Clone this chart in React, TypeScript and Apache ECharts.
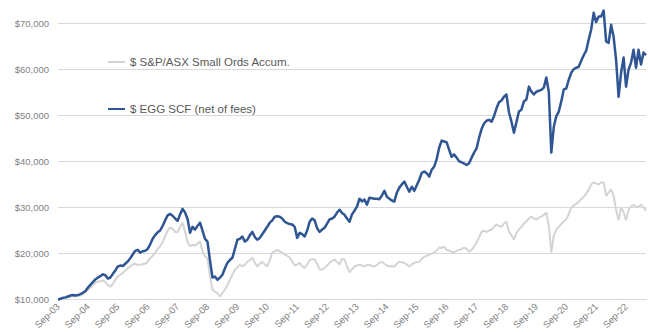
import React, { useEffect, useRef } from "react";
import * as echarts from "echarts";

// Monthly growth of $10,000 invested, Sep-03 onwards (values in $ thousands)
const eggScfK = [
  10.0, 10.2, 10.4, 10.5, 10.7, 10.9, 11.0, 10.9, 11.0, 11.2, 11.5, 11.9,
  12.6, 13.2, 13.8, 14.4, 14.8, 15.1, 15.5, 15.3, 14.6, 14.8, 15.6, 16.3,
  17.2, 17.4, 17.3, 17.8, 18.3, 19.0, 19.8, 20.6, 20.8, 20.2, 20.5, 20.6,
  21.0, 22.0, 23.2, 24.0, 24.6, 25.0, 26.0, 27.2, 28.3, 28.6, 28.2, 27.6,
  27.1, 28.5, 29.7, 28.9, 27.5, 24.5, 25.8, 25.2, 26.0, 26.7, 25.0, 23.2,
  22.6, 18.5, 14.8, 15.0, 14.3, 14.8, 15.4, 16.8, 18.0, 18.6, 19.1, 21.0,
  23.0, 23.2, 23.7, 22.6, 23.0, 24.0, 24.7, 23.6, 23.0, 23.4, 24.2, 25.0,
  25.8, 26.7, 27.2, 28.0, 28.1, 28.0, 27.6, 26.9, 26.6, 26.4, 26.3, 25.8,
  23.4, 24.5, 24.2, 23.7, 25.0, 26.9, 27.6, 27.2, 25.5, 24.7, 25.2, 25.6,
  26.5, 27.4, 27.6, 28.0, 28.9, 29.5, 28.8, 28.4, 27.6, 26.9, 28.5, 29.3,
  30.2, 31.9, 31.3, 31.7, 30.6, 32.1, 32.0, 31.9, 31.9, 31.8, 32.6, 33.6,
  32.3, 31.9, 31.5, 31.3, 33.2, 34.3, 35.0, 35.6, 34.5, 33.4, 34.5, 33.6,
  34.8, 36.0, 37.5, 37.8, 37.4, 36.7, 38.2, 38.9, 40.5, 43.0, 44.5, 44.3,
  44.1, 42.5, 41.0, 41.5, 40.8, 40.0, 39.8, 39.5, 39.2, 39.6, 40.8, 41.9,
  42.8, 45.1, 47.0, 48.2, 48.8, 49.0, 48.6, 49.8, 51.5, 52.8, 53.2, 54.0,
  54.5, 50.6, 48.6, 46.2, 48.5, 50.8, 51.2, 53.0, 53.4, 56.2, 55.1, 54.5,
  55.1, 55.3, 55.5, 56.0, 58.2, 55.0, 41.9, 47.5, 49.8, 50.8, 53.0, 55.6,
  55.8, 57.7, 59.2, 60.0, 60.3, 60.5, 61.8, 63.0, 64.0, 66.4, 68.6, 72.2,
  70.2, 71.4, 71.4, 72.7, 66.0, 65.7, 69.6, 67.0, 62.0, 54.0, 59.2, 62.5,
  56.2, 59.9, 61.4, 64.2, 60.3, 64.2, 61.0, 63.6, 63.0,
];

const smallOrdsK = [
  10.0, 10.1, 10.3, 10.4, 10.5, 10.7, 10.8, 10.7, 10.8, 10.9, 11.2, 11.6,
  12.1, 12.6, 13.1, 13.6, 13.9, 14.0, 14.2, 13.8, 13.2, 12.8, 13.4, 14.3,
  15.0, 15.4, 15.8, 16.3, 16.8, 17.2, 17.6, 17.8, 17.5, 17.6, 17.7, 17.8,
  18.2, 19.0, 19.5, 20.2, 21.0, 21.6, 22.5, 23.8, 25.0, 25.6, 25.4, 24.7,
  24.6, 25.8, 26.7, 24.8, 22.5, 21.6, 21.9, 21.7, 22.2, 22.6, 20.5, 19.4,
  19.0, 15.0, 12.2, 11.7, 11.4, 10.7, 11.4, 12.2, 13.2, 14.3, 15.4, 16.5,
  17.0, 17.6, 17.2, 17.6, 18.2, 18.6, 19.1, 18.0, 17.2, 17.8, 18.2, 17.6,
  17.2, 18.5, 20.2, 20.5, 20.8, 20.5, 20.2, 19.8, 19.5, 19.1, 18.3, 17.4,
  17.6, 18.0, 17.2, 16.9, 17.6, 18.6, 18.8, 18.7, 17.8, 16.6, 16.5, 16.9,
  17.4, 18.0, 18.4, 18.7, 18.2, 17.6, 18.9, 18.7, 17.2, 15.9, 16.6, 17.2,
  17.4, 17.6, 17.4, 17.2, 17.5, 17.6, 17.3, 17.2, 17.5, 18.0, 18.2, 17.8,
  17.4, 17.2, 17.3, 17.2, 17.8, 18.2, 18.1, 18.0, 17.6, 17.2, 17.6, 18.0,
  18.1, 18.2, 18.8, 19.3, 19.5, 19.8, 20.0, 20.2, 20.7, 21.3, 21.2, 21.5,
  20.8, 20.6, 20.4, 20.3, 20.6, 20.8, 21.0, 21.3, 21.0, 20.4, 20.8, 21.6,
  22.4, 23.5, 24.7, 25.0, 24.7, 25.0, 25.2, 25.8, 26.3, 26.0, 25.8, 26.5,
  26.9, 24.7, 24.0, 23.0, 24.5, 25.2, 25.8, 26.5, 27.0, 27.6, 28.0, 27.6,
  27.4, 27.8, 28.0, 28.4, 28.9, 26.0, 20.2, 24.0, 25.2, 25.8, 26.4, 27.0,
  27.4, 28.6, 30.0, 30.4, 30.8, 31.2, 31.8, 32.3, 33.0, 33.8, 35.0, 35.4,
  35.2, 35.0, 35.4, 35.4, 32.5, 33.2, 33.9, 32.5, 29.5, 27.2, 30.0, 29.0,
  27.2, 29.5, 30.2, 30.6, 30.0, 30.2, 30.6, 30.0, 29.3,
];

const MONTH_NAMES = ["Jan", "Feb", "Mar", "Apr", "May", "Jun", "Jul", "Aug", "Sep", "Oct", "Nov", "Dec"];
const FIRST_MONTH = 8; // September
const FIRST_YEAR = 3; // 2003

// "Sep-03", "Oct-03", ... one label per monthly observation
const monthLabels = eggScfK.map((_, i) => {
  const m = (FIRST_MONTH + i) % 12;
  const y = FIRST_YEAR + Math.floor((FIRST_MONTH + i) / 12);
  return `${MONTH_NAMES[m]}-${String(y).padStart(2, "0")}`;
});

const SERIES_SMALL_ORDS = "$ S&P/ASX Small Ords Accum.";
const SERIES_EGG = "$ EGG SCF (net of fees)";

const FONT = "'Liberation Sans', Arial, sans-serif";

export default function App() {
  const ref = useRef<HTMLDivElement>(null);

  useEffect(() => {
    if (!ref.current) return;
    const chart = echarts.init(ref.current, undefined, { renderer: "svg" });
    chart.setOption({
      animation: false,
      backgroundColor: "#ffffff",
      grid: { left: 58, right: 2, top: 23, bottom: 32, containLabel: false },
      legend: {
        orient: "vertical",
        left: 103,
        top: 51,
        itemGap: 35,
        itemWidth: 17,
        itemHeight: 2,
        icon: "rect",
        textStyle: { color: "#595959", fontSize: 11.5, fontFamily: FONT },
        data: [SERIES_SMALL_ORDS, SERIES_EGG],
      },
      xAxis: {
        type: "category",
        data: monthLabels,
        boundaryGap: false,
        axisLine: { show: true, lineStyle: { color: "#d9d9d9", width: 1 } },
        axisTick: { show: false },
        axisLabel: {
          interval: 11,
          rotate: 45,
          margin: 5,
          color: "#7f7f7f",
          fontSize: 9.5,
          fontFamily: FONT,
        },
        splitLine: { show: false },
      },
      yAxis: {
        type: "value",
        min: 10000,
        max: 70000,
        interval: 10000,
        axisLine: { show: false },
        axisTick: { show: false },
        axisLabel: {
          margin: 9,
          color: "#7f7f7f",
          fontSize: 9.5,
          fontFamily: FONT,
          formatter: (v: number) => "$" + v.toLocaleString("en-US"),
        },
        splitLine: { lineStyle: { color: "#d9d9d9", width: 1 } },
      },
      series: [
        {
          name: SERIES_SMALL_ORDS,
          type: "line",
          data: smallOrdsK.map((v) => v * 1000),
          symbol: "none",
          smooth: false,
          clip: false,
          lineStyle: { color: "#d4d4d4", width: 2 },
          itemStyle: { color: "#d4d4d4" },
        },
        {
          name: SERIES_EGG,
          type: "line",
          data: eggScfK.map((v) => v * 1000),
          symbol: "none",
          smooth: false,
          clip: false,
          lineStyle: { color: "#2f5592", width: 2.5, join: "round" },
          itemStyle: { color: "#2f5592" },
        },
      ],
    });
    return () => chart.dispose();
  }, []);

  return (
    <div
      ref={ref}
      style={{ position: "fixed", left: 0, top: 0, width: 648, height: 332, background: "#fff" }}
    />
  );
}
